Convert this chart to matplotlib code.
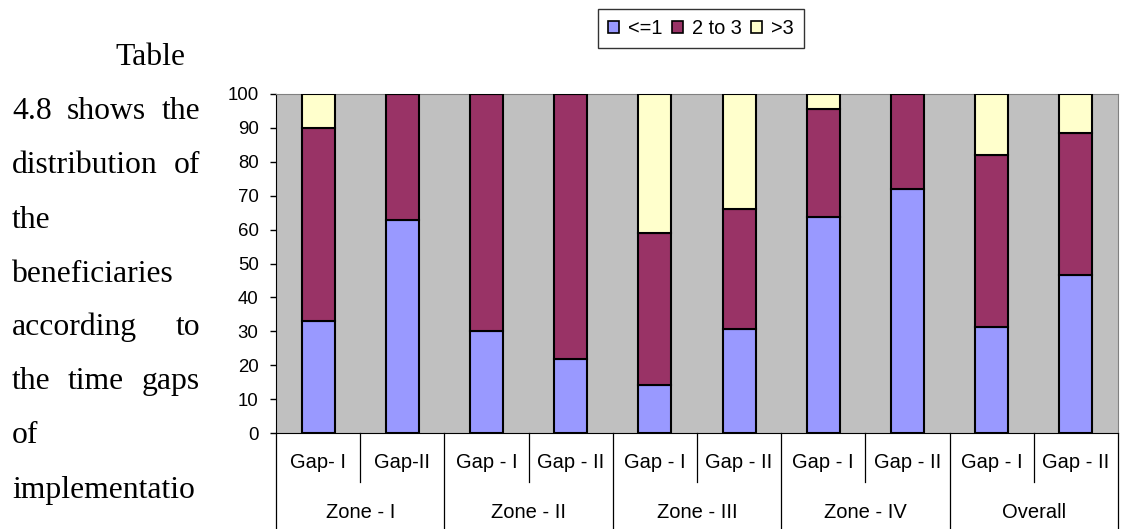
import numpy as np
import matplotlib.pyplot as plt
from matplotlib.patches import Patch

gaps = ['Gap- I', 'Gap-II', 'Gap - I', 'Gap - II', 'Gap - I', 'Gap - II',
        'Gap - I', 'Gap - II', 'Gap - I', 'Gap - II']
zones = ['Zone - I', 'Zone - II', 'Zone - III', 'Zone - IV', 'Overall']

le1 = [33.0, 62.7, 30.0, 21.8, 14.1, 30.7, 63.8, 72.1, 31.2, 46.6]
two_to_three = [57.0, 37.3, 70.0, 78.2, 45.0, 35.5, 31.9, 27.9, 50.9, 42.0]
gt3 = [10.0, 0.0, 0.0, 0.0, 40.9, 33.8, 4.3, 0.0, 17.9, 11.4]

series_names = ['<=1', '2 to 3', '>3']
colors = ['#9999FF', '#993366', '#FFFFCC']

W, H = 1132, 529
fig = plt.figure(figsize=(W / 100, H / 100), dpi=100)

# plot area in pixels: x 276..1118, y 94..433
ax = fig.add_axes([276 / W, 1 - 433 / H, (1118 - 276) / W, (433 - 94) / H])
ax.set_facecolor('#C0C0C0')

x = np.arange(len(gaps))
bottom = np.zeros(len(gaps))
for vals, c in zip([le1, two_to_three, gt3], colors):
    vals = np.array(vals)
    ax.bar(x, vals, width=0.39, bottom=bottom, color=c, edgecolor='black',
           linewidth=1.5, zorder=3)
    bottom += vals

ax.set_xlim(-0.5, len(gaps) - 0.5)
ax.set_ylim(0, 100)
ax.set_yticks(range(0, 101, 10))
ax.set_xticks([])
ax.tick_params(axis='y', direction='out', length=4.5, width=1, pad=8,
               labelsize=13.4)
for lab in ax.get_yticklabels():
    lab.set_fontfamily('Liberation Sans')
for s in ['top', 'right']:
    ax.spines[s].set_color('#808080')
for s in ['left', 'bottom']:
    ax.spines[s].set_color('black')

# category table below the axis
tr = ax.get_xaxis_transform()
ppx = 433 - 94
y_gap = -(463 - 433) / ppx
y_zone = -(512 - 433) / ppx
y_inner = -(482 - 433) / ppx
y_outer = -(529 - 433) / ppx
for i, g in enumerate(gaps):
    ax.text(i, y_gap, g, transform=tr, ha='center', va='center',
            fontsize=14.5, family='Liberation Sans', clip_on=False)
for j, z in enumerate(zones):
    ax.text(2 * j + 0.5, y_zone, z, transform=tr, ha='center', va='center',
            fontsize=14.5, family='Liberation Sans', clip_on=False)
for k in range(len(gaps) + 1):
    xb = k - 0.5
    y1 = y_outer if k % 2 == 0 else y_inner
    ax.plot([xb, xb], [0, y1], transform=tr, color='black', lw=0.9,
            clip_on=False)

# legend
handles = [Patch(facecolor=c, edgecolor='black', linewidth=1.2) for c in colors]
leg = fig.legend(handles, series_names, loc='center',
                 bbox_to_anchor=(701 / W, 1 - 28.5 / H), ncol=3,
                 frameon=True, fancybox=False, shadow=False,
                 handlelength=0.55, handleheight=0.55, handletextpad=0.45,
                 columnspacing=0.45, borderpad=0.5,
                 prop={'family': 'Liberation Sans', 'size': 14.4})
leg.get_frame().set_edgecolor('black')
leg.get_frame().set_linewidth(1.0)

# body text on the left, justified like the page
body = [('Table', 'indent', 65), ('4.8 shows the', 'justify', 119),
        ('distribution of', 'justify', 173), ('the', 'left', 228),
        ('beneficiaries', 'left', 282), ('according to', 'justify', 335),
        ('the time gaps', 'justify', 389), ('of', 'left', 443),
        ('implementatio', 'left', 498)]
x0, x1 = 12, 200
font = dict(family='Liberation Serif', fontsize=22.8, va='baseline')
renderer = fig.canvas.get_renderer()
for line, mode, base in body:
    yb = 1 - base / H
    if mode == 'indent':
        fig.text(115 / W, yb, line, ha='left', **font)
    elif mode == 'left':
        fig.text(x0 / W, yb, line, ha='left', **font)
    else:
        words = line.split()
        ts = [fig.text(0, yb, w, ha='left', **font) for w in words]
        widths = [t.get_window_extent(renderer).width for t in ts]
        gap = (x1 - x0 - sum(widths)) / (len(words) - 1)
        pos = x0
        for t, w in zip(ts, widths):
            t.set_x(pos / W)
            pos += w + gap

fig.savefig('out.png', dpi=100)
